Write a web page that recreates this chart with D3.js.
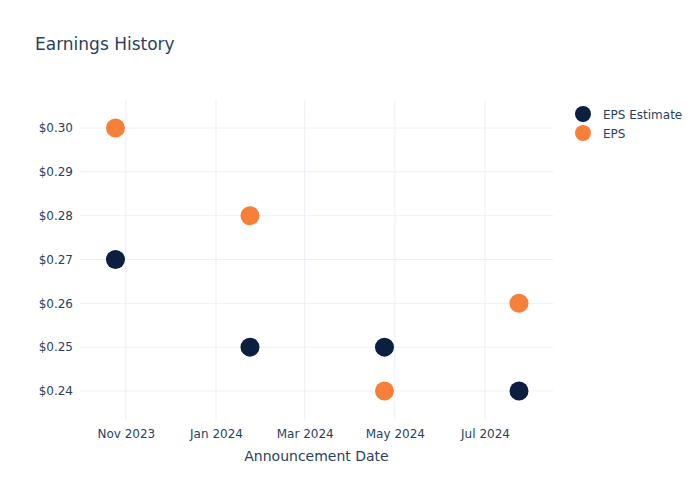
<!DOCTYPE html>
<html><head><meta charset="utf-8">
<script src="https://cdn.jsdelivr.net/npm/d3@7"></script>
<style>body{margin:0;background:#fff}svg{font-family:"DejaVu Sans",Verdana,sans-serif}</style>
</head><body><svg id="c" width="700" height="500"></svg>
<script>
const dates = ["2023-10-25","2024-01-24","2024-04-24","2024-07-24"];
const epsEstimate = [0.27, 0.25, 0.25, 0.24];
const eps = [0.30, 0.28, 0.24, 0.26];
const yTicks = [0.24,0.25,0.26,0.27,0.28,0.29,0.30];
const xTicks = ["2023-11-01","2024-01-01","2024-03-01","2024-05-01","2024-07-01"];
const seriesNames = ["EPS Estimate","EPS"];
const colors = ["#0c1f40","#f6803a"];
const textColor = "#2a3f5f";

const svg = d3.select("#c");
const parse = d3.utcParse("%Y-%m-%d");
const L=80, R=553, T=100, B=420;
const x = d3.scaleUtc().domain([parse("2023-10-01"), parse("2024-08-16")]).range([L,R]);
const y = d3.scaleLinear().domain([0.23338, 0.30639]).range([B,T]);

// grid
svg.append("g").selectAll("line").data(xTicks).join("line")
  .attr("x1",d=>x(parse(d))).attr("x2",d=>x(parse(d))).attr("y1",T).attr("y2",B)
  .attr("stroke","#ebf0f8").attr("stroke-width",1);
svg.append("g").selectAll("line").data(yTicks).join("line")
  .attr("x1",L).attr("x2",R).attr("y1",d=>y(d)).attr("y2",d=>y(d))
  .attr("stroke","#ebf0f8").attr("stroke-width",1);

// axes
const xa = svg.append("g").attr("transform",`translate(0,${B})`)
  .call(d3.axisBottom(x).tickValues(xTicks.map(parse)).tickFormat(d3.utcFormat("%b %Y")).tickSize(0).tickPadding(9));
xa.select(".domain").remove();
xa.selectAll("text").attr("fill",textColor).attr("font-size",12).attr("font-family","DejaVu Sans");
const ya = svg.append("g").attr("transform",`translate(${L},0)`)
  .call(d3.axisLeft(y).tickValues(yTicks).tickFormat(d=>"$"+d.toFixed(2)).tickSize(0).tickPadding(7));
ya.select(".domain").remove();
ya.selectAll("text").attr("fill",textColor).attr("font-size",12).attr("font-family","DejaVu Sans");

// points
[epsEstimate, eps].forEach((vals,i)=>{
  svg.append("g").selectAll("circle").data(vals).join("circle")
    .attr("cx",(d,j)=>x(parse(dates[j]))).attr("cy",d=>y(d)).attr("r",9.5)
    .attr("fill",colors[i]);
});

// title
svg.append("text").attr("x",35).attr("y",50).attr("font-size",17).attr("fill",textColor).text("Earnings History");
svg.append("text").attr("x",(L+R)/2).attr("y",461).attr("text-anchor","middle").attr("font-size",14).attr("fill",textColor).text("Announcement Date");

// legend
const lg = svg.append("g").selectAll("g").data(seriesNames).join("g")
  .attr("transform",(d,i)=>`translate(583,${114+i*19})`);
lg.append("circle").attr("r",8).attr("fill",(d,i)=>colors[i]);
lg.append("text").attr("x",20).attr("y",4.5).attr("font-size",12).attr("fill",textColor).text(d=>d);
</script></body></html>
